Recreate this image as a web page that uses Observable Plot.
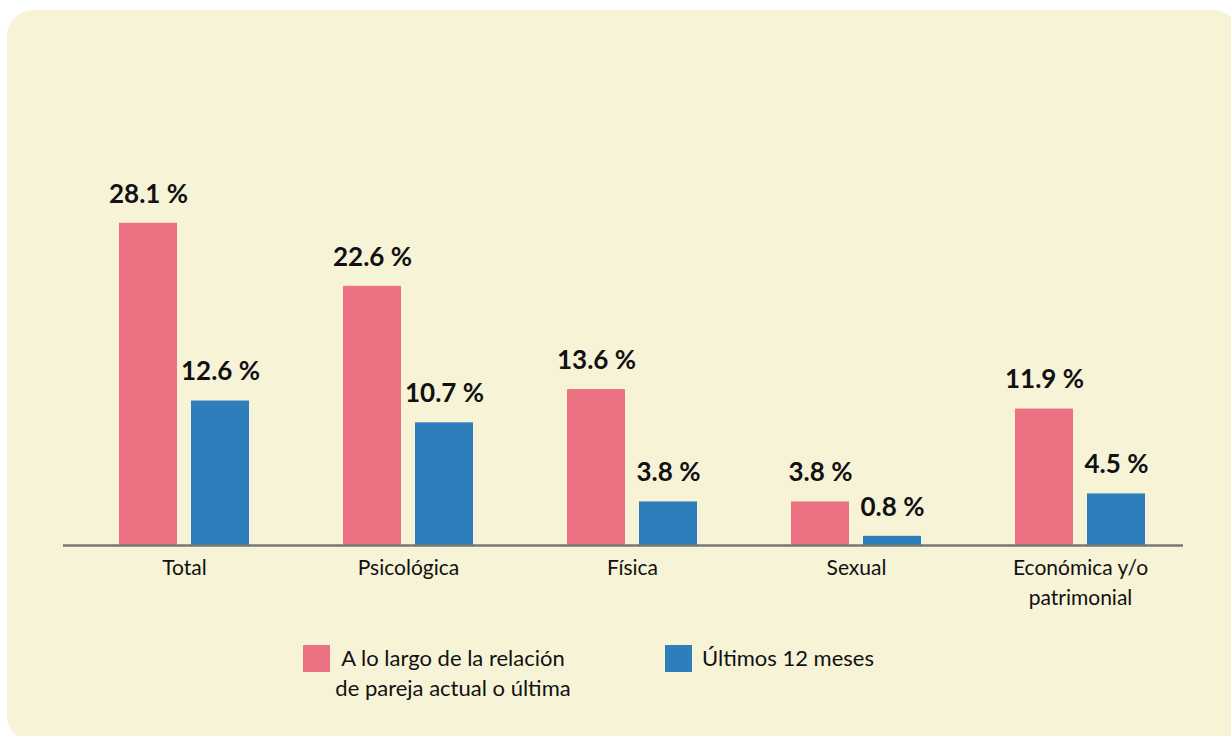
<!DOCTYPE html>
<html>
<head>
<meta charset="utf-8">
<script src="https://cdn.jsdelivr.net/npm/d3@7"></script>
<script src="https://cdn.jsdelivr.net/npm/@observablehq/plot@0.6"></script>
<style>
  body { margin:0; background:#ffffff; width:1231px; height:736px; overflow:hidden; position:relative; font-family: Lato, "Open Sans", sans-serif; }
  #card { position:absolute; left:7px; top:10px; width:1232px; height:732px; background:#F7F3D7; border-radius:26px; }
  #chart { position:absolute; left:0; top:0; }
  .sw { position:absolute; width:27px; height:27px; }
  .lt { position:absolute; font-size:22px; line-height:30px; color:#111; }
</style>
</head>
<body>
<div id="card"></div>
<div id="chart"></div>
<div id="legend"></div>
<script>
const categories = ["Total", "Psicológica", "Física", "Sexual", "Económica y/o patrimonial"];
const series = ["A lo largo de la relación de pareja actual o última", "Últimos 12 meses"];
const valuesRelacion = [28.1, 22.6, 13.6, 3.8, 11.9];
const valuesUltimos12 = [12.6, 10.7, 3.8, 0.8, 4.5];
const colors = ["#EC7283", "#2E7EBB"];
const categoryLabels = {"Económica y/o patrimonial": "Económica y/o\npatrimonial"};

const data = [];
categories.forEach((c, i) => {
  data.push({cat: c, serie: series[0], value: valuesRelacion[i]});
  data.push({cat: c, serie: series[1], value: valuesUltimos12[i]});
});

const chart = Plot.plot({
  width: 1231,
  height: 620,
  marginLeft: 71,
  marginRight: 39,
  marginTop: 201,
  marginBottom: 75,
  style: {background: "transparent", fontFamily: "Lato, 'Open Sans', sans-serif", color: "#111"},
  fx: {domain: categories, padding: 0, label: null},
  x: {domain: series, paddingInner: 0.2, paddingOuter: 0.645, axis: null},
  y: {domain: [0, 30], axis: null},
  color: {domain: series, range: colors},
  marks: [
    Plot.barY(data, {fx: "cat", x: "serie", y: "value", fill: "serie"}),
    Plot.ruleY([0], {stroke: "#777777", strokeWidth: 2.5, dx: -9}),
    Plot.text(data, {fx: "cat", x: "serie", y: "value", text: d => d.value.toFixed(1) + " %",
      dy: -29, fontWeight: "bold", fontSize: 26, fill: "#111"}),
    Plot.axisFx({anchor: "bottom", tickSize: 0, tickPadding: 8, fontSize: 21, lineHeight: 1.43,
      label: null, tickFormat: d => categoryLabels[d] ?? d})
  ]
});
document.getElementById("chart").appendChild(chart);

const legend = document.getElementById("legend");
const items = [
  {sx: 303, tx: 322, tw: 262, align: "center", text: "A lo largo de la relación<br>de pareja actual o última"},
  {sx: 665, tx: 702, tw: 250, align: "left", text: "Últimos 12 meses"}
];
items.forEach((it, i) => {
  const sw = document.createElement("div");
  sw.className = "sw";
  sw.style.left = it.sx + "px";
  sw.style.top = "645px";
  sw.style.background = colors[i];
  legend.appendChild(sw);
  const t = document.createElement("div");
  t.className = "lt";
  t.style.left = it.tx + "px";
  t.style.top = "643px";
  t.style.width = it.tw + "px";
  t.style.textAlign = it.align;
  t.innerHTML = it.text;
  legend.appendChild(t);
});
</script>
</body>
</html>
